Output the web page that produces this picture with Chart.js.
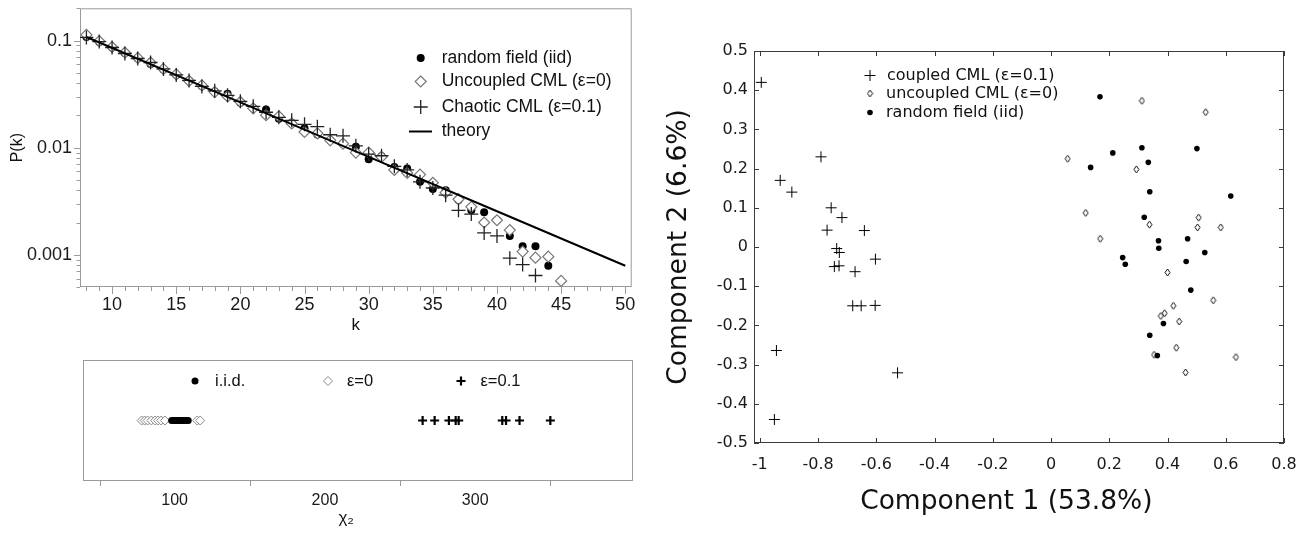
<!DOCTYPE html>
<html>
<head>
<meta charset="utf-8">
<script src="https://cdn.jsdelivr.net/npm/chart.js@4.4.1/dist/chart.umd.min.js"></script>
<style>
  html, body { margin: 0; padding: 0; background: #fff; }
  body { position: relative; width: 1307px; height: 536px; overflow: hidden; }
  canvas { position: absolute; }
  #degree { left: 0; top: 0; }
  #chi { left: 0; top: 340px; }
  #pca { left: 640px; top: 0; }
</style>
</head>
<body>
<canvas id="degree" width="640" height="340"></canvas>
<canvas id="chi" width="640" height="196"></canvas>
<canvas id="pca" width="667" height="536"></canvas>
<script>
// degree distribution P(k), k = 8 .. 45
const kValues = [8, 9, 10, 11, 12, 13, 14, 15, 16, 17, 18, 19, 20, 21, 22, 23, 24, 25, 26,
  27, 28, 29, 30, 31, 32, 33, 34, 35, 36, 37, 38, 39, 40, 41, 42, 43, 44, 45];
const randomField = [0.108, 0.0968, 0.0861, 0.0765, 0.068, 0.0604, 0.0537, 0.0478, 0.0424, 0.0377,
  0.0335, 0.0319, 0.0263, 0.0235, 0.0227, 0.0186, 0.0171, 0.0152, 0.0133, 0.0117, 0.011, 0.0102,
  0.0078, 0.0083, 0.0066, 0.0064, 0.0048, 0.0041, 0.004, 0.00325, 0.0026, 0.0025, 0.0021, 0.0015,
  0.0012, 0.0012, 0.00079, null];
const uncoupled = [0.113, 0.0989, 0.087, 0.0773, 0.0688, 0.0624, 0.0543, 0.0483, 0.042, 0.0381,
  0.033, 0.0301, 0.0267, 0.0233, 0.0201, 0.0196, 0.0168, 0.014, 0.0136, 0.0117, 0.0109, 0.009,
  0.009, 0.0082, 0.0062, 0.0058, 0.0056, 0.0047, 0.0038, 0.0033, 0.0028, 0.002, 0.0021, 0.0017,
  0.00107, 0.00094, 0.00096, 0.00057];
const chaotic = [0.107, 0.0979, 0.0861, 0.0757, 0.068, 0.0624, 0.0543, 0.0478, 0.0424, 0.0373,
  0.0339, 0.0308, 0.0271, 0.0243, 0.0214, 0.0192, 0.018, 0.0165, 0.0157, 0.0132, 0.0129, 0.0104,
  0.0087, 0.0084, 0.0067, 0.0062, 0.0048, 0.0042, 0.0036, 0.0026, 0.0024, 0.0016, 0.0015, 0.00093,
  0.00081, 0.00064, null, null];
const theoryK = [8, 20, 30, 40, 50];
const theoryP = [0.108, 0.0265, 0.0082, 0.00255, 0.00079];
const kTicks = [10, 15, 20, 25, 30, 35, 40, 45, 50];
const pTicks = [0.001, 0.01, 0.1];
const pTickLabels = ['0.001', '0.01', '0.1'];

// chi-square of each realisation
const chiIid = [98, 99.5, 100.5, 101.5, 102.5, 103.5, 104.5, 106, 107.5, 109];
const chiUncoupled = [78, 80, 82, 84.5, 87, 89, 91, 93.5, 115, 117];
const chiCoupled = [265, 273, 282.5, 287, 289, 318, 320.5, 329.5, 350];
const chiTicks = [100, 200, 300];
const chiMinorTicks = [50, 150, 250, 350];

// first two principal components
const pcaCoupled = [[-0.995, 0.42], [-0.79, 0.23], [-0.93, 0.17], [-0.89, 0.14], [-0.755, 0.1],
  [-0.718, 0.075], [-0.769, 0.043], [-0.641, 0.042], [-0.736, -0.004], [-0.727, -0.014],
  [-0.603, -0.031], [-0.744, -0.05], [-0.728, -0.048], [-0.673, -0.063], [-0.681, -0.15],
  [-0.652, -0.15], [-0.604, -0.149], [-0.943, -0.264], [-0.527, -0.321], [-0.95, -0.44]];
const pcaUncoupled = [[0.312, 0.373], [0.531, 0.344], [0.057, 0.225], [0.293, 0.198], [0.119, 0.087],
  [0.507, 0.075], [0.338, 0.057], [0.503, 0.05], [0.583, 0.05], [0.169, 0.021], [0.4, -0.065],
  [0.557, -0.136], [0.42, -0.15], [0.39, -0.169], [0.377, -0.176], [0.44, -0.19], [0.43, -0.257],
  [0.354, -0.275], [0.635, -0.281], [0.462, -0.32]];
const pcaRandom = [[0.168, 0.383], [0.312, 0.253], [0.501, 0.251], [0.212, 0.24], [0.334, 0.216],
  [0.136, 0.203], [0.339, 0.141], [0.617, 0.13], [0.32, 0.076], [0.369, 0.016], [0.37, -0.003],
  [0.469, 0.021], [0.528, -0.014], [0.246, -0.027], [0.255, -0.044], [0.464, -0.037], [0.48, -0.11],
  [0.386, -0.195], [0.339, -0.225], [0.365, -0.277]];
const pc1Ticks = [-1, -0.8, -0.6, -0.4, -0.2, 0, 0.2, 0.4, 0.6, 0.8];
const pc1Labels = ['-1', '-0.8', '-0.6', '-0.4', '-0.2', '0', '0.2', '0.4', '0.6', '0.8'];
const pc2Ticks = [-0.5, -0.4, -0.3, -0.2, -0.1, 0, 0.1, 0.2, 0.3, 0.4, 0.5];
const pc2Labels = ['-0.5', '-0.4', '-0.3', '-0.2', '-0.1', '0', '0.1', '0.2', '0.3', '0.4', '0.5'];

const HELV = 'Liberation Sans, Arial, sans-serif';
const VERD = 'DejaVu Sans, Verdana, sans-serif';

const pairs = (xs, ys) => xs.map((x, i) => ({ x, y: ys[i] })).filter(p => p.y != null);
const points = list => list.map(([x, y]) => ({ x, y }));

// small open diamond, a bit taller than wide
function diamondSprite(w, h) {
    const c = document.createElement('canvas');
    c.width = w + 2;
    c.height = h + 2;
    const g = c.getContext('2d');
    const cx = c.width / 2, cy = c.height / 2;
    g.beginPath();
    g.moveTo(cx, 1);
    g.lineTo(c.width - 1, cy);
    g.lineTo(cx, c.height - 1);
    g.lineTo(1, cy);
    g.closePath();
    g.fillStyle = '#fff';
    g.fill();
    g.lineWidth = 1;
    g.strokeStyle = '#111';
    g.stroke();
    return c;
}

function drawMarker(ctx, ds, x, y, lineLen) {
    ctx.save();
    if (ds.showLine) {
        ctx.strokeStyle = ds.borderColor;
        ctx.lineWidth = ds.borderWidth;
        ctx.beginPath();
        ctx.moveTo(x - lineLen / 2, y);
        ctx.lineTo(x + lineLen / 2, y);
        ctx.stroke();
        ctx.restore();
        return;
    }
    const style = ds.pointStyle, r = ds.pointRadius;
    ctx.lineWidth = ds.pointBorderWidth;
    ctx.strokeStyle = ds.pointBorderColor;
    ctx.fillStyle = ds.pointBackgroundColor;
    ctx.beginPath();
    if (style instanceof HTMLCanvasElement) {
        ctx.drawImage(style, x - style.width / 2, y - style.height / 2);
    } else if (style === 'circle') {
        ctx.arc(x, y, r, 0, Math.PI * 2);
        ctx.fill();
    } else if (style === 'rectRot') {
        ctx.moveTo(x, y - r);
        ctx.lineTo(x + r, y);
        ctx.lineTo(x, y + r);
        ctx.lineTo(x - r, y);
        ctx.closePath();
        ctx.fill();
        ctx.stroke();
    } else if (style === 'cross') {
        ctx.moveTo(x - r, y);
        ctx.lineTo(x + r, y);
        ctx.moveTo(x, y - r);
        ctx.lineTo(x, y + r);
        ctx.stroke();
    }
    ctx.restore();
}

// box round the plot area plus tick marks
function framePlugin(cfg) {
    return {
        id: 'frame',
        beforeDatasetsDraw(chart) {
            const { ctx, chartArea: a } = chart;
            ctx.save();
            ctx.strokeStyle = cfg.color;
            ctx.lineWidth = 1;
            ctx.strokeRect(a.left + 0.5, a.top + 0.5, a.width - 1, a.height - 1);
            for (const t of cfg.marks) {
                const scale = chart.scales[t.axis];
                const list = (t.at || scale.ticks.map(k => k.value)).map(v => [v, t.len]);
                (t.minor || []).forEach(v => list.push([v, t.minorLen]));
                ctx.beginPath();
                for (const [v, len] of list) {
                    const p = Math.round(scale.getPixelForValue(v)) + 0.5;
                    if (scale.isHorizontal()) {
                        const d = t.inward ? -len : len;
                        ctx.moveTo(p, a.bottom);
                        ctx.lineTo(p, a.bottom + d);
                        if (t.mirror) {
                            ctx.moveTo(p, a.top);
                            ctx.lineTo(p, a.top - d);
                        }
                    } else {
                        const d = t.inward ? len : -len;
                        ctx.moveTo(a.left, p);
                        ctx.lineTo(a.left + d, p);
                        if (t.mirror) {
                            ctx.moveTo(a.right, p);
                            ctx.lineTo(a.right - d, p);
                        }
                    }
                }
                ctx.stroke();
            }
            ctx.restore();
        }
    };
}

function legendPlugin(cfg) {
    return {
        id: 'insetLegend',
        afterDatasetsDraw(chart) {
            const { ctx } = chart;
            ctx.save();
            ctx.font = cfg.font;
            ctx.textBaseline = 'middle';
            ctx.textAlign = 'left';
            for (const item of cfg.items) {
                const ds = chart.data.datasets[item.dataset];
                drawMarker(ctx, ds, item.mx, item.y, cfg.lineLen);
                ctx.fillStyle = cfg.color;
                ctx.fillText(ds.label, item.tx, item.y);
            }
            ctx.restore();
        }
    };
}

function axis(opts) {
    return {
        type: opts.type || 'linear',
        display: opts.display !== false,
        min: opts.min,
        max: opts.max,
        afterBuildTicks: s => { s.ticks = opts.ticks.map(v => ({ value: v })); },
        afterFit: s => {
            if (opts.width != null) s.width = opts.width;
            if (opts.height != null) s.height = opts.height;
            // the plot box is placed by layout padding, not by label overhang
            s.paddingLeft = s.paddingRight = s.paddingTop = s.paddingBottom = 0;
        },
        grid: { display: false, drawTicks: false },
        border: { display: false },
        ticks: {
            autoSkip: false,
            maxRotation: 0,
            padding: opts.padding,
            color: '#1a1a1a',
            font: { family: opts.family, size: opts.size },
            callback: (v, i) => opts.labels ? opts.labels[i] : String(v)
        },
        title: opts.title ? {
            display: true,
            text: opts.title,
            color: '#111',
            font: { family: opts.family, size: opts.titleSize },
            padding: opts.titlePadding
        } : { display: false }
    };
}

const base = {
    responsive: false,
    animation: false,
    devicePixelRatio: 1,
    events: []
};

new Chart(document.getElementById('degree'), {
    type: 'scatter',
    plugins: [
        framePlugin({
            color: '#9a9a9a',
            marks: [
                { axis: 'x', len: 7, minorLen: 4,
                  minor: kValues.concat([46, 47, 48, 49]).filter(k => k % 5) },
                { axis: 'y', len: 6, minorLen: 3.5,
                  minor: [2, 3, 4, 5, 6, 7, 8, 9].flatMap(m => [1e-4, 1e-3, 1e-2, 1e-1].map(d => m * d))
                      .filter(v => v >= 0.0005 && v <= 0.2) }
            ]
        }),
        legendPlugin({
            font: `17.5px ${HELV}`,
            color: '#111',
            lineLen: 23,
            items: [
                { dataset: 0, mx: 420.7, tx: 441.7, y: 58 },
                { dataset: 1, mx: 420.7, tx: 441.7, y: 81.5 },
                { dataset: 2, mx: 420.7, tx: 441.7, y: 107 },
                { dataset: 3, mx: 420.5, tx: 441.7, y: 131.5 }
            ]
        })
    ],
    data: {
        datasets: [{
            label: 'random field (iid)',
            data: pairs(kValues, randomField),
            pointStyle: 'circle',
            pointRadius: 4,
            pointBackgroundColor: '#000',
            pointBorderColor: '#000',
            pointBorderWidth: 0,
            order: 3
        }, {
            label: 'Uncoupled CML (ε=0)',
            data: pairs(kValues, uncoupled),
            pointStyle: 'rectRot',
            pointRadius: 5.5,
            pointBackgroundColor: '#fff',
            pointBorderColor: '#777',
            pointBorderWidth: 1.2,
            order: 2
        }, {
            label: 'Chaotic CML (ε=0.1)',
            data: pairs(kValues, chaotic),
            pointStyle: 'cross',
            pointRadius: 7,
            pointBackgroundColor: '#222',
            pointBorderColor: '#222',
            pointBorderWidth: 1.3,
            order: 1
        }, {
            label: 'theory',
            data: pairs(theoryK, theoryP),
            showLine: true,
            pointRadius: 0,
            borderColor: '#000',
            borderWidth: 2,
            order: 0
        }]
    },
    options: {
        ...base,
        layout: { padding: { top: 8, right: 7, left: 0, bottom: 0 } },
        plugins: { legend: { display: false }, tooltip: { enabled: false } },
        scales: {
            x: axis({ min: 7.5, max: 50.5, ticks: kTicks, height: 53, padding: 7, family: HELV, size: 18,
                title: 'k', titleSize: 17, titlePadding: { top: 0, bottom: 4.8 } }),
            y: axis({ type: 'logarithmic', min: 0.0005, max: 0.2, ticks: pTicks, labels: pTickLabels,
                width: 80, padding: 8, family: HELV, size: 18,
                title: 'P(k)', titleSize: 16, titlePadding: { top: 8, bottom: 0 } })
        }
    }
});

const chiRow = 0.5;

new Chart(document.getElementById('chi'), {
    type: 'scatter',
    plugins: [
        framePlugin({
            color: '#9a9a9a',
            marks: [{ axis: 'x', at: chiMinorTicks, len: 5 }]
        }),
        legendPlugin({
            font: `16.5px ${HELV}`,
            color: '#111',
            items: [
                { dataset: 0, mx: 195, tx: 215, y: 41 },
                { dataset: 1, mx: 328, tx: 347, y: 41 },
                { dataset: 2, mx: 461, tx: 480.5, y: 41 }
            ]
        })
    ],
    data: {
        datasets: [{
            label: 'i.i.d.',
            data: chiIid.map(x => ({ x, y: chiRow })),
            pointStyle: 'circle',
            pointRadius: 3.5,
            pointBackgroundColor: '#000',
            pointBorderColor: '#000',
            pointBorderWidth: 0,
            order: 0
        }, {
            label: 'ε=0',
            data: chiUncoupled.map(x => ({ x, y: chiRow })),
            pointStyle: 'rectRot',
            pointRadius: 4.5,
            pointBackgroundColor: '#fff',
            pointBorderColor: '#888',
            pointBorderWidth: 1,
            order: 2
        }, {
            label: 'ε=0.1',
            data: chiCoupled.map(x => ({ x, y: chiRow })),
            pointStyle: 'cross',
            pointRadius: 4.5,
            pointBackgroundColor: '#000',
            pointBorderColor: '#000',
            pointBorderWidth: 2.2,
            order: 1
        }]
    },
    options: {
        ...base,
        layout: { padding: { top: 20, right: 7, left: 83, bottom: 0 } },
        plugins: { legend: { display: false }, tooltip: { enabled: false } },
        scales: {
            // trailing spaces pull the centred axis title left, under the data
            x: axis({ min: 39, max: 405, ticks: chiTicks, height: 55, padding: 10, family: HELV, size: 16,
                title: 'χ₂     ', titleSize: 17, titlePadding: { top: 0, bottom: 7.8 } }),
            y: axis({ display: false, min: 0, max: 1, ticks: [], family: HELV, size: 15 })
        }
    }
});

new Chart(document.getElementById('pca'), {
    type: 'scatter',
    plugins: [
        framePlugin({
            color: '#3a3a3a',
            marks: [
                { axis: 'x', len: 5, inward: true, mirror: true },
                { axis: 'y', len: 5, inward: true, mirror: true }
            ]
        }),
        legendPlugin({
            font: `16px ${VERD}`,
            color: '#111',
            items: [
                { dataset: 0, mx: 230, tx: 247, y: 75.5 },
                { dataset: 1, mx: 230, tx: 246, y: 93.5 },
                { dataset: 2, mx: 230, tx: 246, y: 112.5 }
            ]
        })
    ],
    data: {
        datasets: [{
            label: 'coupled CML (ε=0.1)',
            data: points(pcaCoupled),
            pointStyle: 'cross',
            pointRadius: 5.5,
            pointBackgroundColor: '#000',
            pointBorderColor: '#000',
            pointBorderWidth: 1,
            order: 2
        }, {
            label: 'uncoupled CML (ε=0)',
            data: points(pcaUncoupled),
            pointStyle: diamondSprite(5, 7),
            pointRadius: 4,
            pointBackgroundColor: '#fff',
            pointBorderColor: '#000',
            pointBorderWidth: 1,
            order: 1
        }, {
            label: 'random field (iid)',
            data: points(pcaRandom),
            pointStyle: 'circle',
            pointRadius: 2.8,
            pointBackgroundColor: '#000',
            pointBorderColor: '#000',
            pointBorderWidth: 0,
            order: 0
        }]
    },
    options: {
        ...base,
        layout: { padding: { top: 51, right: 23, left: 0, bottom: 0 } },
        plugins: { legend: { display: false }, tooltip: { enabled: false } },
        scales: {
            // trailing spaces pull the centred title a little to the left
            x: axis({ min: -1.02, max: 0.8, ticks: pc1Ticks, labels: pc1Labels, height: 93, padding: 12,
                family: VERD, size: 16, title: 'Component 1 (53.8%)   ', titleSize: 26.5,
                titlePadding: { top: 0, bottom: 18 } }),
            y: axis({ min: -0.5, max: 0.5, ticks: pc2Ticks, labels: pc2Labels, width: 114, padding: 6,
                family: VERD, size: 16, title: 'Component 2 (6.6%)', titleSize: 26.5,
                titlePadding: { top: 23, bottom: 0 } })
        }
    }
});
</script>
</body>
</html>
